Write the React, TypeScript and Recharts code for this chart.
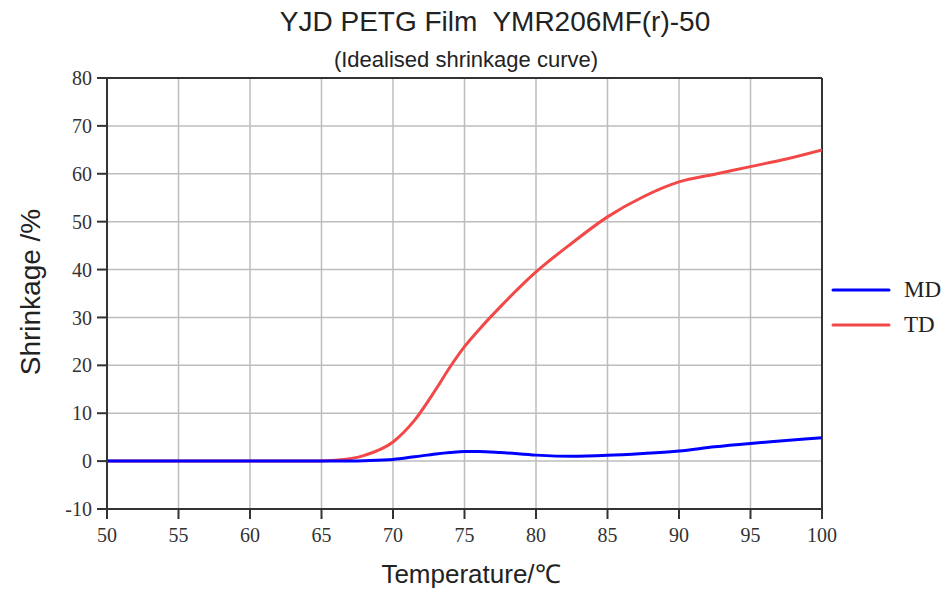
import React from 'react';
import { LineChart, Line, XAxis, YAxis, CartesianGrid, ReferenceLine } from 'recharts';

const temps = [50, 55, 60, 64, 66, 68, 70, 71.5, 73, 74, 75, 76, 77.5, 80, 82.5, 85, 87.5, 90, 92.5, 95, 97.5, 100];
const tdValues = [0, 0, 0, 0, 0.2, 1.2, 4, 8.5, 15, 19.7, 23.9, 27.4, 32.2, 39.5, 45.5, 51, 55.2, 58.3, 59.9, 61.5, 63.1, 65];
const mdValues = [0, 0, 0, 0, 0, 0.1, 0.35, 0.9, 1.5, 1.8, 2.0, 2.0, 1.8, 1.25, 1.0, 1.2, 1.6, 2.1, 3.0, 3.7, 4.3, 4.9];
const xTicks = [50, 55, 60, 65, 70, 75, 80, 85, 90, 95, 100];
const yTicks = [-10, 0, 10, 20, 30, 40, 50, 60, 70, 80];
const seriesNames = ['MD', 'TD'];
const seriesColors = ['#0000ff', '#f24848'];

const data = temps.map((t, i) => ({ t, MD: mdValues[i], TD: tdValues[i] }));

const tickStyle = { fontFamily: '"Liberation Serif", "Times New Roman", serif', fontSize: 20, fill: '#333' };
const sans = '"Liberation Sans", Arial, sans-serif';

const LegendBlock = () => (
  <div style={{ position: 'absolute', left: 830, top: 272, fontFamily: '"Liberation Serif", serif', fontSize: 23, color: '#222' }}>
    {seriesNames.map((n, i) => (
      <div key={n} style={{ display: 'flex', alignItems: 'center', height: 35 }}>
        <svg width={62} height={10} style={{ marginRight: 12 }}>
          <line x1={3} y1={5} x2={59} y2={5} stroke={seriesColors[i]} strokeWidth={3} strokeLinecap="round" />
        </svg>
        <span>{n}</span>
      </div>
    ))}
  </div>
);

export default function App() {
  return (
    <div style={{ position: 'absolute', left: 0, top: 0, width: 952, height: 592, background: '#fff', overflow: 'hidden' }}>
      <div style={{ position: 'absolute', left: 0, top: 0 }}>
        <LineChart width={952} height={592} data={data} margin={{ top: 78, right: 130, bottom: 0, left: 0 }}>
          <CartesianGrid stroke="#bdbdbd" strokeWidth={1.5} horizontal vertical />
          <XAxis
            type="number"
            dataKey="t"
            domain={[50, 100]}
            ticks={xTicks}
            height={83}
            tick={tickStyle}
            tickSize={10}
            tickMargin={9}
            stroke="#333"
            strokeWidth={2}
            interval={0}
            allowDataOverflow
          />
          <YAxis
            type="number"
            domain={[-10, 80]}
            ticks={yTicks}
            width={107}
            tick={tickStyle}
            tickSize={10}
            tickMargin={5}
            stroke="#333"
            strokeWidth={2}
            interval={0}
            allowDataOverflow
          />
          <ReferenceLine y={80} stroke="#333" strokeWidth={2} />
          <ReferenceLine x={100} stroke="#333" strokeWidth={2} />
          <Line type="monotone" dataKey="TD" stroke={seriesColors[1]} strokeWidth={3} dot={false} isAnimationActive={false} />
          <Line type="monotone" dataKey="MD" stroke={seriesColors[0]} strokeWidth={3} dot={false} isAnimationActive={false} />
        </LineChart>
      </div>
      <div style={{ position: 'absolute', left: 0, top: 6, width: 990, textAlign: 'center', fontFamily: sans, fontSize: 28, color: '#222', whiteSpace: 'pre' }}>
        YJD PETG Film  YMR206MF(r)-50
      </div>
      <div style={{ position: 'absolute', left: 0, top: 47, width: 932, textAlign: 'center', fontFamily: sans, fontSize: 22, color: '#222' }}>
        (Idealised shrinkage curve)
      </div>
      <div style={{ position: 'absolute', left: 31, top: 292, transform: 'translate(-50%, -50%) rotate(-90deg)', fontFamily: sans, fontSize: 28, color: '#222', whiteSpace: 'nowrap' }}>
        Shrinkage /%
      </div>
      <div style={{ position: 'absolute', left: 0, top: 559, width: 942, textAlign: 'center', fontFamily: sans, fontSize: 26, lineHeight: '30px', color: '#222' }}>
        Temperature/℃
      </div>
      <LegendBlock />
    </div>
  );
}
